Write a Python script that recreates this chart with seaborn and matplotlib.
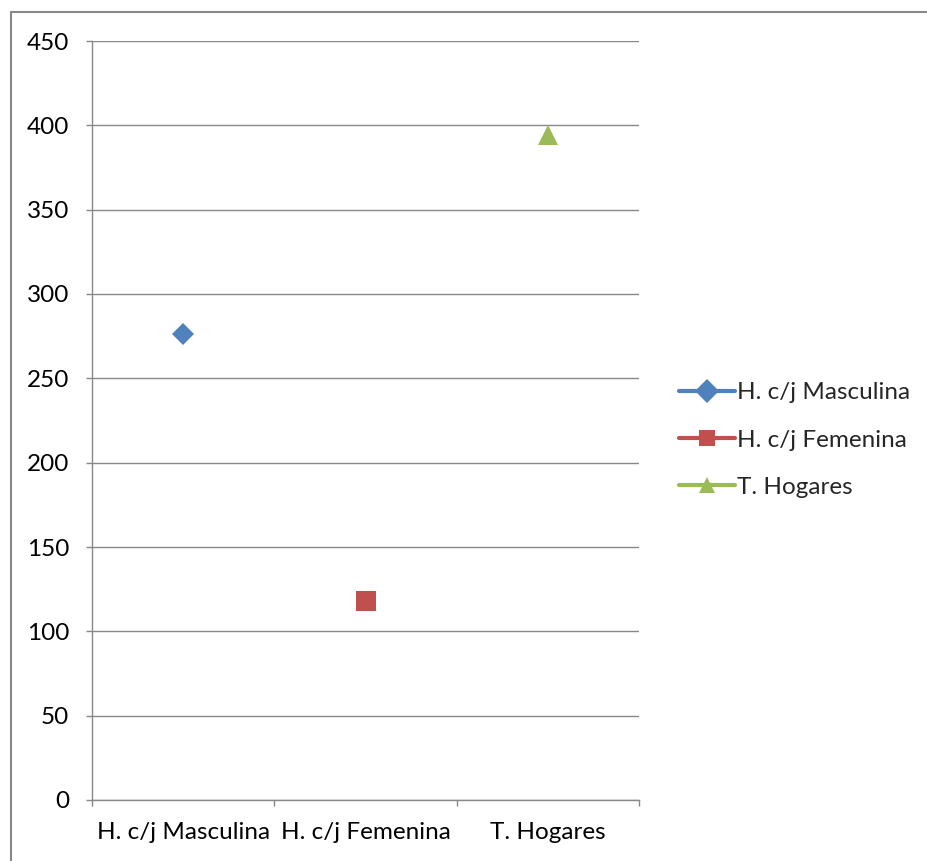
import matplotlib
matplotlib.use("Agg")
import matplotlib.pyplot as plt
from matplotlib.lines import Line2D
import seaborn as sns
import pandas as pd

# --- дані ---
categories = ["H. c/j Masculina", "H. c/j Femenina", "T. Hogares"]
series_names = ["H. c/j Masculina", "H. c/j Femenina", "T. Hogares"]
values = [276, 118, 394]
colors = ["#4F81BD", "#C0504D", "#9BBB59"]
markers = ["D", "s", "^"]
marker_sizes = [11, 14, 14.5]
y_ticks = [0, 50, 100, 150, 200, 250, 300, 350, 400, 450]

df = pd.DataFrame({"categoria": categories, "serie": series_names, "valor": values})

sns.set_theme(style="white")
plt.rcParams["font.family"] = ["Lato", "DejaVu Sans"]

fig = plt.figure(figsize=(9.27, 8.61), dpi=100)
ax = fig.add_axes([92 / 927, 61 / 861, 547 / 927, 759 / 861])

for name, col, mk, ms in zip(series_names, colors, markers, marker_sizes):
    sub = df[df["serie"] == name]
    sns.lineplot(data=sub, x="categoria", y="valor", ax=ax, color=col,
                 marker=mk, markersize=ms, markeredgewidth=0, linewidth=3,
                 label=name, legend=False)

grid_c = "#888888"
fs = 17.5
ax.set_xlim(-0.5, 2.5)
ax.set_ylim(0, 450)
ax.set_yticks(y_ticks)
ax.set_yticklabels([str(v) for v in y_ticks])
ax.yaxis.grid(True, color=grid_c, linewidth=1)
ax.xaxis.grid(False)

ax.set_xticks([-0.5, 0.5, 1.5, 2.5])
ax.set_xticklabels([])
ax.set_xticks([0, 1, 2], minor=True)
ax.set_xticklabels(categories, minor=True)
ax.set_xlabel("")
ax.set_ylabel("")

for s in ["top", "right"]:
    ax.spines[s].set_visible(False)
for s in ["left", "bottom"]:
    ax.spines[s].set_color(grid_c)
    ax.spines[s].set_linewidth(1)

ax.tick_params(axis="y", which="major", left=True, length=4.5, width=1, color=grid_c,
               labelsize=fs, labelcolor="black", pad=12)
ax.tick_params(axis="x", which="major", bottom=True, length=4.5, width=1, color=grid_c)
ax.tick_params(axis="x", which="minor", bottom=True, length=0, labelsize=fs,
               labelcolor="black", pad=16)

handles = [Line2D([0], [0], color=c, linewidth=3, marker=m, markersize=12,
                  markeredgewidth=0) for c, m in zip(colors, markers)]
fig.legend(handles, series_names, loc="center left",
           bbox_to_anchor=(679 / 927, (861 - 440) / 861), frameon=False,
           fontsize=fs, handlelength=2.3, handletextpad=0.1, labelspacing=1.07,
           borderpad=0, borderaxespad=0)

# рамка області діаграми (видно лише верх і ліво)
fig.add_artist(Line2D([11 / 927, 1], [1 - 12 / 861, 1 - 12 / 861], color=grid_c,
                      linewidth=1.5, transform=fig.transFigure))
fig.add_artist(Line2D([11 / 927, 11 / 927], [0, 1 - 12 / 861], color=grid_c,
                      linewidth=1.5, transform=fig.transFigure))

fig.savefig("out.png", dpi=100)
